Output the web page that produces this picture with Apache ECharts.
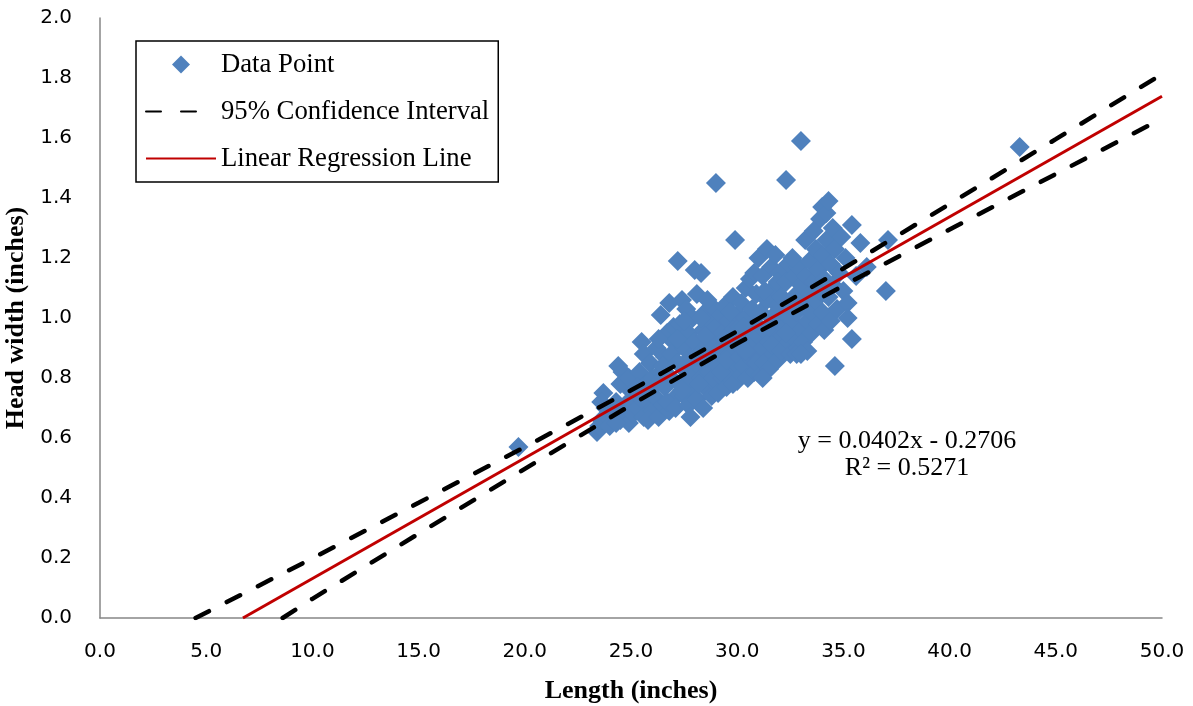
<!DOCTYPE html>
<html>
<head>
<meta charset="utf-8">
<script src="https://cdn.jsdelivr.net/npm/echarts@6/dist/echarts.min.js"></script>
<style>html,body{margin:0;padding:0;background:#fff;}#chart{width:1193px;height:706px;}</style>
</head>
<body>
<div id="chart"></div>
<script>
// ---------- data ----------
const xTicks = [0, 5, 10, 15, 20, 25, 30, 35, 40, 45, 50];
const yTicks = [0, 0.2, 0.4, 0.6, 0.8, 1.0, 1.2, 1.4, 1.6, 1.8, 2.0];

// scatter points [length, head width]
const dataPoints = [
  [19.7,0.57],[23.7,0.75],[43.3,1.57],
  [23.4,0.62],[23.5,0.64],[23.6,0.66],[23.8,0.70],[23.9,0.67],[24.0,0.64],[23.6,0.72],
  [24.2,0.68],[24.3,0.72],[24.4,0.84],[24.5,0.66],[24.6,0.82],[24.7,0.70],[24.8,0.77],[24.9,0.65],[25.0,0.73],[24.5,0.78],[24.9,0.80],[24.3,0.65],
  [25.1,0.68],[25.2,0.75],[25.3,0.70],[25.4,0.82],[25.5,0.92],[25.6,0.88],[25.6,0.67],[25.7,0.78],[25.8,0.72],[25.9,0.85],[26.0,0.69],[26.0,0.80],[25.3,0.77],[25.5,0.73],[25.8,0.66],[25.9,0.75],
  [26.1,0.74],[26.2,0.90],[26.3,0.67],[26.4,1.01],[26.4,0.82],[26.5,0.71],[26.6,0.87],[26.6,0.77],[26.7,0.95],[26.8,0.69],[26.8,1.05],[26.9,0.80],[27.0,0.92],[27.0,0.73],[26.2,0.78],[26.5,0.84],[26.7,0.72],[26.9,0.88],[26.3,0.93],[27.0,0.97],[27.2,1.19],
  [27.1,0.70],[27.2,0.85],[27.3,0.78],[27.3,0.98],[27.4,1.06],[27.5,0.74],[27.5,0.90],[27.6,0.82],[27.6,1.03],[27.7,0.71],[27.7,0.95],[27.8,0.67],[27.8,0.87],[27.9,0.77],[27.9,1.00],[28.0,0.84],[28.0,1.16],[28.0,0.92],[27.2,0.93],[27.4,0.76],[27.5,0.99],[27.8,0.80],[28.1,1.08],
  [28.1,0.73],[28.2,0.88],[28.3,1.15],[28.3,0.80],[28.4,0.96],[28.4,0.70],[28.5,0.85],[28.5,1.02],[28.6,0.76],[28.6,0.91],[28.7,0.99],[28.7,0.82],[28.8,0.74],[28.8,1.04],[28.9,0.87],[28.9,0.93],[29.0,0.78],[29.0,1.45],[29.0,0.97],[28.2,0.78],[28.5,0.94],[28.9,0.80],[28.3,1.00],[28.6,1.06],[28.7,0.89],
  [29.1,0.84],[29.1,0.75],[29.2,0.90],[29.2,1.01],[29.3,0.80],[29.3,0.95],[29.4,0.87],[29.4,1.04],[29.5,0.77],[29.5,0.92],[29.6,0.99],[29.6,0.83],[29.7,0.88],[29.7,0.80],[29.8,0.96],[29.8,1.07],[29.9,0.85],[29.9,1.26],[30.0,0.91],[30.0,0.79],[30.0,1.01],[29.2,0.82],[29.5,0.86],[29.8,0.78],[29.4,0.93],[29.7,1.02],
  [30.1,0.87],[30.1,0.97],[30.2,0.81],[30.2,1.05],[30.3,0.92],[30.3,0.84],[30.4,1.00],[30.4,1.10],[30.5,0.88],[30.5,0.80],[30.6,0.95],[30.6,1.13],[30.7,0.86],[30.7,1.03],[30.8,0.91],[30.8,0.82],[30.9,0.98],[30.9,1.08],[31.0,0.87],[31.0,1.20],[31.0,0.94],[30.3,0.97],[30.6,0.90],[30.9,0.85],[30.4,0.89],[30.8,1.15],
  [31.1,0.81],[31.1,1.02],[31.2,0.90],[31.2,1.14],[31.3,0.96],[31.3,0.85],[31.4,1.23],[31.4,1.06],[31.5,0.92],[31.5,0.83],[31.6,1.00],[31.6,1.17],[31.7,0.88],[31.7,1.10],[31.8,0.96],[31.8,1.21],[31.9,0.86],[31.9,1.04],[32.0,0.93],[32.0,1.15],[32.0,0.99],[31.3,1.09],[31.6,0.91],[31.9,1.12],[31.2,0.80],[31.5,0.97],
  [32.1,0.89],[32.1,1.07],[32.3,1.46],[32.2,0.97],[32.3,1.12],[32.3,1.01],[32.4,0.92],[32.4,1.18],[32.5,1.05],[32.5,0.88],[32.6,0.99],[32.7,1.14],[32.7,0.93],[32.8,1.08],[32.8,1.02],[32.9,0.90],[32.9,1.17],[33.0,1.59],[33.0,0.96],[33.0,1.11],[32.6,1.20],[32.3,0.95],[32.8,0.88],
  [33.1,1.04],[33.1,0.92],[33.2,1.14],[33.2,1.26],[33.3,0.99],[33.4,1.08],[33.4,1.19],[33.5,0.95],[33.5,1.02],[33.6,1.12],[33.7,1.06],[33.7,1.23],[33.8,0.98],[33.8,1.16],[33.9,1.33],[33.9,1.09],[34.0,1.37],[34.0,1.02],[34.0,1.21],[34.1,0.96],[33.3,0.89],[33.6,1.29],[33.0,0.88],
  [34.1,1.13],[34.2,1.35],[34.2,1.26],[34.3,1.39],[34.3,1.07],[34.4,1.18],[34.4,0.99],[34.5,1.30],[34.5,1.11],[34.6,0.84],[34.6,1.23],[34.7,1.03],[34.8,1.15],[34.9,1.27],[35.0,1.09],[35.1,1.20],[35.2,1.05],[35.2,1.00],[35.4,0.93],[35.4,1.31],[35.6,1.14],[35.8,1.25],[36.1,1.17],[37.0,1.09],[37.1,1.26]
];

// regression line end points (y = 0.0402x - 0.2706)
const regressionLine = [[6.73, 0], [50, 1.7394]];

// 95% confidence interval curves
const ciUpperX = [4.5, 10, 15, 20, 25, 30, 35, 40, 45, 50];
const ciUpperY = [0, 0.199, 0.384, 0.570, 0.759, 0.956, 1.165, 1.380, 1.596, 1.813];
const ciLowerX = [8.6, 10, 15, 20, 25, 30, 35, 40, 45, 50];
const ciLowerY = [0, 0.064, 0.281, 0.497, 0.710, 0.915, 1.108, 1.295, 1.480, 1.665];

const equationText = 'y = 0.0402x - 0.2706';
const r2Text = 'R² = 0.5271';

// ---------- chart ----------
const chart = echarts.init(document.getElementById('chart'), null, {renderer: 'canvas'});
const pairs = (xs, ys) => xs.map((x, i) => [x, ys[i]]);
const serif = 'Liberation Serif, Times New Roman, serif';
const tickFont = {fontFamily: 'DejaVu Sans', fontSize: 20, color: '#000'};
const ciStyle = {color: '#000', width: 4.5, type: [15, 20], cap: 'round'};
const titleFont = {fontFamily: serif, fontSize: 26, fontWeight: 'bold', color: '#000'};

chart.setOption({
  animation: false,
  backgroundColor: '#fff',
  grid: {left: 100, right: 31, top: 18, bottom: 88, containLabel: false, outerBoundsMode: 'none'},
  legend: {
    data: [
      {name: 'Data Point', icon: 'path://M0,-1L1,0L0,1L-1,0Z'},
      {name: '95% Confidence Interval', itemStyle: {opacity: 0}},
      {name: 'Linear Regression Line', itemStyle: {opacity: 0}}
    ],
    orient: 'vertical',
    left: 136, top: 41,
    padding: [10, 9, 10, 9],
    itemWidth: 70, itemHeight: 18, itemGap: 20,
    symbolKeepAspect: true,
    borderColor: '#000', borderWidth: 1.5,
    backgroundColor: '#fff',
    selectedMode: false,
    textStyle: {fontFamily: serif, fontSize: 26.7, color: '#000', lineHeight: 26}
  },
  xAxis: {
    type: 'value', min: 0, max: 50, interval: 5,
    name: 'Length (inches)', nameLocation: 'middle', nameGap: 60,
    nameTextStyle: titleFont,
    axisLine: {show: true, lineStyle: {color: '#868686', width: 1.5}},
    axisTick: {show: false},
    splitLine: {show: false},
    axisLabel: Object.assign({margin: 24, formatter: v => v.toFixed(1)}, tickFont)
  },
  yAxis: {
    type: 'value', min: 0, max: 2, interval: 0.2,
    name: 'Head width (inches)', nameLocation: 'middle', nameGap: 66, nameRotate: 90,
    nameTextStyle: titleFont,
    axisLine: {show: true, lineStyle: {color: '#868686', width: 1.5}},
    axisTick: {show: false},
    splitLine: {show: false},
    axisLabel: Object.assign({margin: 28, formatter: v => v.toFixed(1)}, tickFont)
  },
  series: [
    {
      name: 'Data Point', type: 'scatter', symbol: 'diamond', symbolSize: 20,
      itemStyle: {color: '#4F81BD', opacity: 1},
      data: dataPoints, z: 2
    },
    {
      name: '95% Confidence Interval', type: 'line', symbol: 'none', showSymbol: false,
      lineStyle: ciStyle, itemStyle: {color: '#000'},
      data: pairs(ciUpperX, ciUpperY), z: 3, clip: true
    },
    {
      name: '95% Confidence Interval', type: 'line', symbol: 'none', showSymbol: false,
      lineStyle: ciStyle, itemStyle: {color: '#000'},
      data: pairs(ciLowerX, ciLowerY), z: 3, clip: true
    },
    {
      name: 'Linear Regression Line', type: 'line', symbol: 'none', showSymbol: false,
      lineStyle: {color: '#C00000', width: 3}, itemStyle: {color: '#C00000'},
      data: regressionLine, z: 4, clip: true
    }
  ],
  graphic: [
    {type: 'text', x: 907, y: 441, z: 10, style: {text: equationText, align: 'center', verticalAlign: 'middle', fontFamily: serif, fontSize: 26, fill: '#000'}},
    {type: 'text', x: 907, y: 468, z: 10, style: {text: r2Text, align: 'center', verticalAlign: 'middle', fontFamily: serif, fontSize: 26, fill: '#000'}}
  ]
});
</script>
</body>
</html>
